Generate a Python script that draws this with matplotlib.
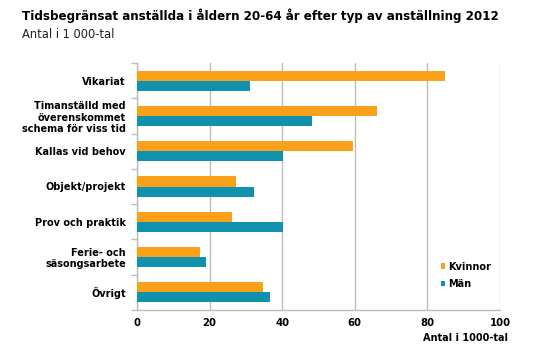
import numpy as np
import matplotlib
matplotlib.use('Agg')
import matplotlib.pyplot as plt

categories = ['Vikariat', 'Timanställd med\növerenskommet\nschema för viss tid', 'Kallas vid behov',
              'Objekt/projekt', 'Prov och praktik', 'Ferie- och\nsäsongsarbete', 'Övrigt']
kvinnor = [84.8, 66.2, 59.6, 27.3, 26.3, 17.4, 34.7]
man = [31.1, 48.3, 40.1, 32.1, 40.3, 18.9, 36.7]
xticks = [0, 20, 40, 60, 80, 100]

ORANGE = '#F9A11B'
TEAL = '#1092AE'
GRID = '#BDBDBD'

plt.rc('font', family='DejaVu Sans')

fig = plt.figure(figsize=(5.34, 3.55), dpi=100)
ax = fig.add_axes([137/534, 1 - 310/355, 363/534, 247/355])

y = np.arange(len(categories))
h = 0.285
ax.barh(y - h/2, kvinnor, height=h, color=ORANGE, label='Kvinnor', zorder=3)
ax.barh(y + h/2, man, height=h, color=TEAL, label='Män', zorder=3)

ax.set_ylim(len(categories) - 0.5, -0.5)
ax.set_xlim(0, 100)
ax.set_xticks(xticks)
ax.set_yticks(y)
ax.set_yticklabels(categories, fontweight='bold', fontsize=7, linespacing=1.15)
ax.set_yticks(np.arange(len(categories) + 1) - 0.5, minor=True)
ax.tick_params(axis='y', which='major', length=0, pad=8)
ax.tick_params(axis='y', which='minor', length=4, color=GRID, width=1)
ax.tick_params(axis='x', length=0, pad=6, labelsize=7.3)
for lab in ax.get_xticklabels():
    lab.set_fontweight('bold')

ax.grid(axis='x', color=GRID, linewidth=1, zorder=0)
for s in ['top', 'right']:
    ax.spines[s].set_visible(False)
for s in ['left', 'bottom']:
    ax.spines[s].set_color(GRID)
    ax.spines[s].set_linewidth(1)

ax.set_xlabel('Antal i 1000-tal', fontweight='bold', fontsize=7, labelpad=3)
ax.xaxis.set_label_coords(1.022, -0.095)
ax.xaxis.label.set_ha('right')

leg = ax.legend(loc='lower right', bbox_to_anchor=(1.0, 0.05), frameon=False,
                prop={'weight': 'bold', 'size': 7}, handlelength=0.5, handleheight=0.5,
                handletextpad=0.3, labelspacing=0.75)

fig.text(22/534, 1 - 16/355, 'Tidsbegränsat anställda i åldern 20-64 år efter typ av anställning 2012',
         fontsize=8.6, fontweight='bold', va='center', ha='left')
fig.text(22/534, 1 - 35/355, 'Antal i 1 000-tal', fontsize=8.3, va='center', ha='left', color='#222222')

fig.savefig('out.png', dpi=100)
